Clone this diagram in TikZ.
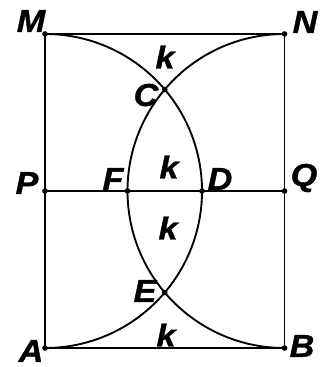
\documentclass[tikz,border=0pt]{standalone}
\usepackage{fontspec}
\setmainfont{Liberation Sans}
\newfontfamily\lettrefont{Liberation Sans}[UprightFont={* Bold Italic}, FakeBold=1.2, FakeStretch=1.08]
\usetikzlibrary{calc}

\tikzset{
  lettre/.style={font=\fontsize{27}{27}\selectfont\lettrefont, inner sep=0pt},
  point/.style={circle, fill=black, inner sep=0pt, minimum size=0.17cm}
}

\begin{document}
\begin{tikzpicture}[scale=1, line width=1.6pt]

\def\w{7.185}
\def\r{4.71}

\useasboundingbox (-1.35,-5.28) rectangle (8.4,5.73);

% Sommets du rectangle
\coordinate (P) at (0,0);
\coordinate (Q) at (\w,0);
\coordinate (M) at (0,\r);
\coordinate (N) at (\w,\r);
\coordinate (A) at (0,-\r);
\coordinate (B) at (\w,-\r);

% Points d'intersection
\coordinate (C) at ({\w/2},{sqrt(\r*\r-\w*\w/4)});
\coordinate (E) at ({\w/2},{-sqrt(\r*\r-\w*\w/4)});
\coordinate (D) at (\r,0);
\coordinate (F) at (\w-\r,0);

% Rectangle
\draw (M) -- (N) -- (B) -- (A) -- cycle;
\draw (P) -- (Q);

% Arcs
\draw (M) arc[start angle=90, end angle=-90, radius=\r];
\draw (N) arc[start angle=90, end angle=270, radius=\r];

% Points
\foreach \p in {M,N,P,Q,A,B,C,D,E,F}
{
    \node[point] at (\p) {};
}

% Lettres
\node[lettre] (lM) at (-0.42,5.1) {M};
\node[lettre] (lN) at (7.8,5.07) {N};
\node[lettre] (lP) at (-0.54,0.24) {P};
\node[lettre] (lQ) at (7.77,0.39) {Q};
\node[lettre] (lA) at (-0.42,-4.8) {A};
\node[lettre] (lB) at (7.71,-4.65) {B};
\node[lettre] (lC) at (3.03,2.88) {C};
\node[lettre] (lE) at (3.0,-3.0) {E};
\node[lettre] (lF) at (2.04,0.36) {F};
\node[lettre] (lD) at (5.25,0.36) {D};

% Régions k
\node[lettre] (k1) at (3.6,4.02) {k};
\node[lettre] (k2) at (3.72,0.72) {k};
\node[lettre] (k3) at (3.69,-1.11) {k};
\node[lettre] (k4) at (3.63,-4.32) {k};

\end{tikzpicture}
\end{document}
